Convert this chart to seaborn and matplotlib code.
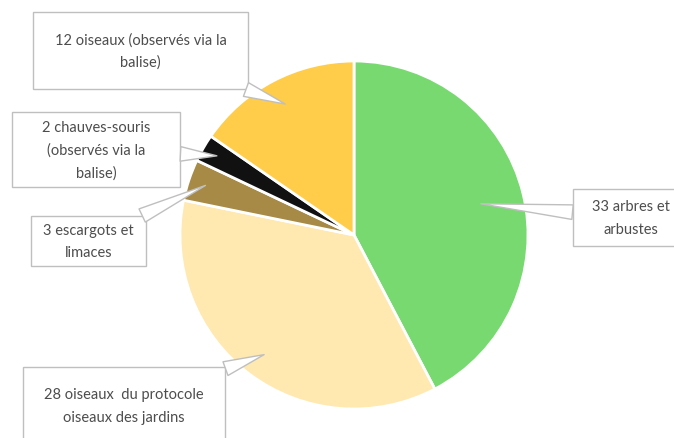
import numpy as np
import matplotlib
matplotlib.use("Agg")
import matplotlib.pyplot as plt
from matplotlib.patches import Rectangle
import seaborn as sns

sns.set_theme(style="white")
plt.rcParams['font.family'] = ['Lato', 'DejaVu Sans']

# ── Data ───────────────────────────────────────────────────────────────────────
labels = [
    "33 arbres et\narbustes",
    "28 oiseaux  du protocole\noiseaux des jardins",
    "3 escargots et\nlimaces",
    "2 chauves-souris\n(observés via la\nbalise)",
    "12 oiseaux (observés via la\nbalise)",
]
values = [33, 28, 3, 2, 12]
colors = ["#77d970", "#ffe9b0", "#a68a45", "#111111", "#ffcd4a"]

# label boxes in figure pixels (left, bottom, width, height) and pointer radius
boxes = [
    (573, 192, 116, 57),
    (23, -6, 202, 77),
    (31, 172, 115, 50),
    (12, 251, 168, 75),
    (33, 349, 215, 77),
]
tip_r = [0.75, 0.86, 0.9, 0.91, 0.85]

W, H = 674, 439
fig = plt.figure(figsize=(W / 100, H / 100), dpi=100)
ax = fig.add_axes([180 / W, 29 / H, 348 / W, 348 / H])

wedges, _ = ax.pie(
    values,
    colors=colors,
    startangle=90,
    counterclock=False,
    wedgeprops=dict(edgecolor="white", linewidth=2),
)
ax.set_xlim(-1, 1)
ax.set_ylim(-1, 1)
ax.set_aspect("equal")
ax.axis("off")

# callout boxes with wedge pointers
for w, lab, (bx, by, bw, bh), r in zip(wedges, labels, boxes, tip_r):
    mid = np.deg2rad((w.theta1 + w.theta2) / 2)
    tip = (r * np.cos(mid), r * np.sin(mid))
    rect = Rectangle((bx / W, by / H), bw / W, bh / H, transform=fig.transFigure,
                     facecolor="white", edgecolor="#bfbfbf", linewidth=1,
                     zorder=3, clip_on=False)
    ax.add_patch(rect)
    ax.annotate(
        lab,
        xy=tip, xycoords="data",
        xytext=((bx + bw / 2) / W, (by + bh / 2) / H), textcoords="figure fraction",
        ha="center", va="center", ma="center",
        fontsize=10.5, color="#4d4d4d", linespacing=1.75, zorder=5,
        annotation_clip=False,
        arrowprops=dict(arrowstyle="wedge,tail_width=1.0", fc="white", ec="#bfbfbf",
                        lw=1, patchA=rect, shrinkA=0, shrinkB=0, zorder=4),
    )

fig.savefig("out.png", dpi=100)
plt.close(fig)
